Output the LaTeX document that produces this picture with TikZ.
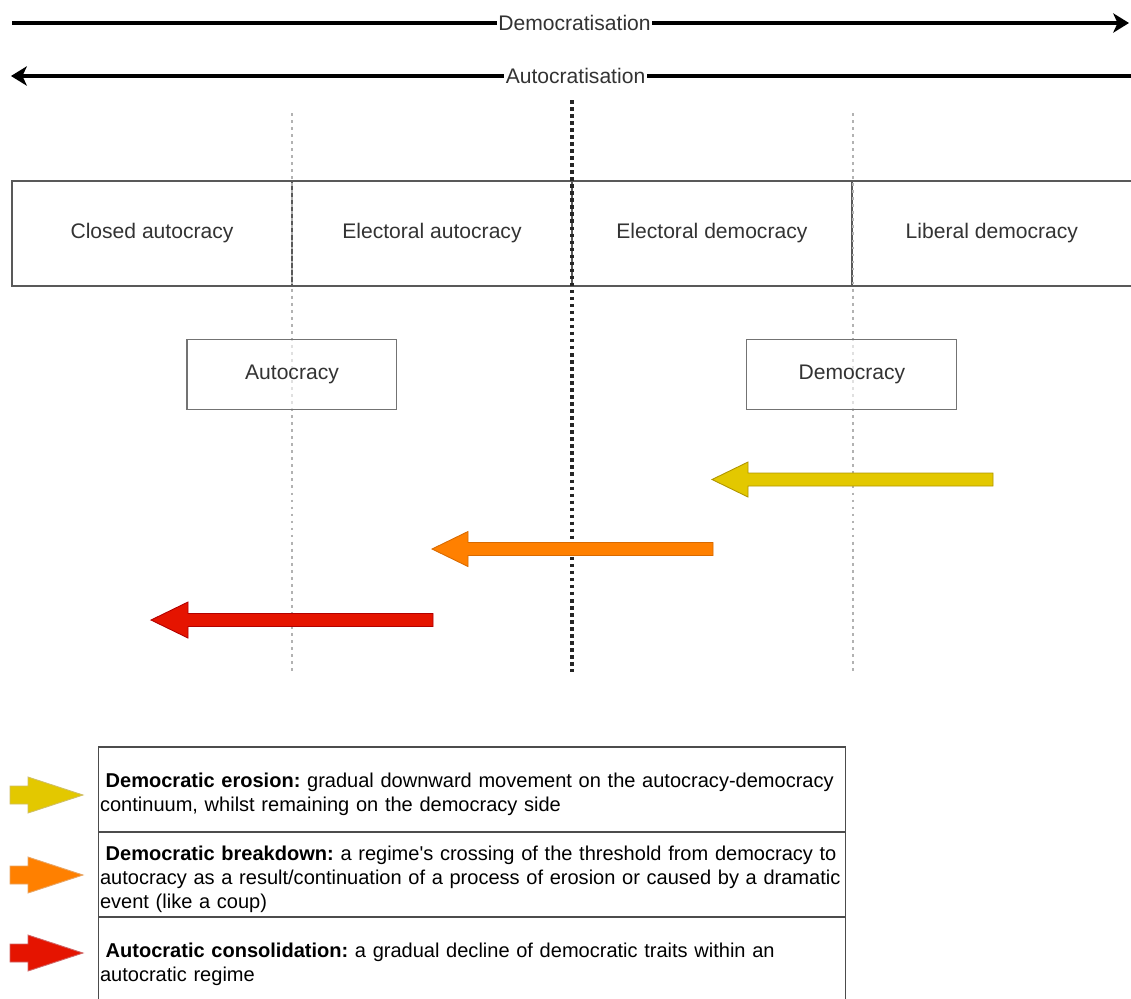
\documentclass[tikz,border=0pt]{standalone}
\usepackage{fontspec}
\setmainfont{Liberation Sans}
\newfontfamily\straightfont{Liberation Sans}
\usetikzlibrary{arrows.meta,positioning}

\definecolor{erosionfill}{HTML}{E3C800}
\definecolor{erosionline}{HTML}{B09500}
\definecolor{breakdownfill}{HTML}{FF8000}
\definecolor{breakdownline}{HTML}{D86A00}
\definecolor{consolfill}{HTML}{E51400}
\definecolor{consolline}{HTML}{B20000}

\newcommand{\legendstrut}{\rule{0pt}{13.4pt}}

\tikzset{
  trend/.style={line width=1.8pt, -{Stealth[length=9pt,width=11pt,inset=2.5pt]}},
  trendlabel/.style={fill=white, inner sep=1pt, text=black!80},
  regimecell/.style={draw=black!65, line width=0.9pt, minimum width=5.6cm, minimum height=2.1cm, outer sep=0pt, text=black!80},
  sidebox/.style={draw=black!55, line width=0.6pt, fill=white, fill opacity=0.6, text opacity=1, minimum width=4.2cm, minimum height=1.4cm, text=black!80},
  threshold/.style={line width=2pt, dash pattern=on 2pt off 2pt, black!85},
  subline/.style={line width=1.6pt, dash pattern=on 1.6pt off 2.4pt, black!30},
  blockarrow/.style={line width=0.5pt, line join=miter},
  legendrow/.style={draw=black!70, line width=0.6pt, minimum width=14.96cm, minimum height=1.7cm, outer sep=0pt, inner sep=0.04cm, text width=14.88cm, align=left, font=\fontsize{11.4}{13.7}\selectfont}
}

\begin{document}
\begin{tikzpicture}[x=0.02cm, y=-0.02cm, font=\fontsize{12}{14}\selectfont]
    \frenchspacing
    \useasboundingbox (0, 0) rectangle (1131, 998);

    % trends
    \coordinate (demstart) at (12, 23);
    \coordinate (demend) at (1129, 23);
    \coordinate (autstart) at (1140, 76);
    \coordinate (autend) at (11, 76);
    \draw [trend] (demstart) -- node [trendlabel, xshift=0.08cm] (demtext) {Democratisation} (demend);
    \draw [trend] (autstart) -- node [trendlabel] (auttext) {Autocratisation} (autend);

    % regime types
    \node [regimecell] (closed) at (152, 233.5) {Closed autocracy};
    \node [regimecell, right=0pt of closed] (elaut) {Electoral autocracy};
    \node [regimecell, right=0pt of elaut] (eldem) {Electoral democracy};
    \node [regimecell, right=0pt of eldem] (libdem) {Liberal democracy};

    % thresholds
    \coordinate (leftTop) at (292, 113);
    \coordinate (leftBot) at (292, 672);
    \coordinate (midTop) at (572, 100);
    \coordinate (midBot) at (572, 672);
    \coordinate (rightTop) at (853, 113);
    \coordinate (rightBot) at (853, 672);
    \draw [subline] (leftTop) -- (leftBot);
    \draw [subline] (rightTop) -- (rightBot);
    \draw [threshold] (midTop) -- (midBot);

    \node [sidebox, below=1.06cm of closed.south east] (autocracy) {Autocracy};
    \node [sidebox, below=1.06cm of eldem.south east] (democracy) {Democracy};

    % episodes
    \draw [blockarrow, fill=erosionfill, draw=erosionline] (993, 473) -- (748, 473) -- (748, 462) -- (712, 479.5) -- (748, 497) -- (748, 486) -- (993, 486) -- cycle;
    \draw [blockarrow, fill=breakdownfill, draw=breakdownline] (713, 542.5) -- (468, 542.5) -- (468, 531.5) -- (432, 549) -- (468, 566.5) -- (468, 555.5) -- (713, 555.5) -- cycle;
    \draw [blockarrow, fill=consolfill, draw=consolline] (433, 613.5) -- (188, 613.5) -- (188, 602) -- (151, 620) -- (188, 638) -- (188, 626.5) -- (433, 626.5) -- cycle;

    % legend
    \node [legendrow] (erosion) at (472, 789.5) {\mbox{\legendstrut\hspace*{0.28em}\textbf{Democratic erosion:} gradual downward movement on the autocracy-democracy}\\\mbox{continuum, whilst remaining on the democracy side}};
    \node [legendrow, below=0pt of erosion] (breakdown) {\mbox{\legendstrut\hspace*{0.28em}\textbf{Democratic breakdown:} a regime{\straightfont'}s crossing of the threshold from democracy to}\\\mbox{autocracy as a result/continuation of a process of erosion or caused by a dramatic}\\\mbox{event (like a coup)}};
    \node [legendrow, below=0pt of breakdown] (consolidation) {\mbox{\legendstrut\hspace*{0.28em}\textbf{Autocratic consolidation:} a gradual decline of democratic traits within an}\\\mbox{autocratic regime}};

    \draw [blockarrow, fill=erosionfill, draw=erosionline!60] (10, 786) -- (28, 786) -- (28, 777) -- (83, 795) -- (28, 813) -- (28, 804) -- (10, 804) -- cycle;
    \draw [blockarrow, fill=breakdownfill, draw=breakdownline!60] (10, 866) -- (28, 866) -- (28, 857) -- (83, 875) -- (28, 893) -- (28, 884) -- (10, 884) -- cycle;
    \draw [blockarrow, fill=consolfill, draw=consolline!60] (10, 944) -- (28, 944) -- (28, 935) -- (83, 953) -- (28, 971) -- (28, 962) -- (10, 962) -- cycle;
  \end{tikzpicture}
\end{document}
